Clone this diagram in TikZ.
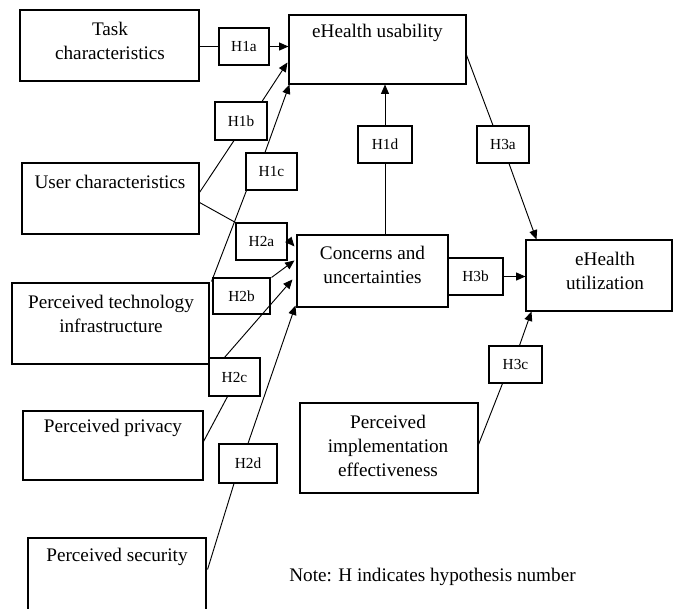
\documentclass[tikz,border=0pt]{standalone}
\usepackage{fontspec}
\setmainfont{Liberation Serif}
\usetikzlibrary{arrows.meta,calc,fit}
\begin{document}
\begin{tikzpicture}[x=0.75pt,y=-0.75pt,
  box/.style={draw,line width=0.8pt,inner sep=0pt},
  hbox/.style={draw,line width=0.8pt,inner sep=0pt,font=\fontsize{11.5}{13}\selectfont},
  txt/.style={inner sep=0pt,align=center,font=\fontsize{14.4}{18}\selectfont},
  conn/.style={line width=0.7pt},
  arr/.style={conn,-{Triangle[length=7pt,width=6pt]}}]
\useasboundingbox (0,0) rectangle (677,608);
% main boxes
\node[box,fit={(20,10)(199,81)}] (task) {};
\node[box,fit={(289,15)(466,84)}] (usab) {};
\node[box,fit={(22,163)(199,234)}] (user) {};
\node[box,fit={(297,235)(448,307)}] (conc) {};
\node[box,fit={(526,240)(672,311)}] (util) {};
\node[box,fit={(12,283)(209,364)}] (pti) {};
\node[box,fit={(23,411)(203,480)}] (priv) {};
\node[box,fit={(28,538)(206,615)}] (sec) {};
\node[box,fit={(300,403)(478,493)}] (pie) {};
% texts
\node[txt] (taskt) at (110,40.5) {Task\\characteristics};
\node[txt] (usabt) at (377.5,33) {eHealth usability};
\node[txt] (usert) at (110,182) {User characteristics};
\node[txt] (conct) at (372.5,264.5) {Concerns and\\uncertainties};
\node[txt] (utilt) at (605,270.5) {eHealth\\utilization};
\node[txt] (ptit) at (111,313.5) {Perceived technology\\infrastructure};
\node[txt] (privt) at (113,428) {Perceived privacy};
\node[txt] (sect) at (117,557) {Perceived security};
\node[txt] (piet) at (388,446) {Perceived\\implementation\\effectiveness};
\node[txt] (note) at (432.5,577) {Note: H indicates hypothesis number};
% hypothesis boxes
\node[hbox,minimum width=37.5pt,minimum height=27.75pt] (h1a) at (244,46.5) {H1a};
\node[hbox,minimum width=39pt,minimum height=28.5pt] (h1b) at (241,121) {H1b};
\node[hbox,minimum width=38.25pt,minimum height=27.75pt] (h1c) at (271.5,171.5) {H1c};
\node[hbox,minimum width=40.5pt,minimum height=27.75pt] (h1d) at (385,144.5) {H1d};
\node[hbox,minimum width=39pt,minimum height=27.75pt] (h3a) at (503,144.5) {H3a};
\node[hbox,minimum width=38.25pt,minimum height=27.75pt] (h2a) at (261.5,241.5) {H2a};
\node[hbox,minimum width=41.25pt,minimum height=27.75pt] (h3b) at (475.5,276.5) {H3b};
\node[hbox,minimum width=42.75pt,minimum height=27pt] (h2b) at (241.5,296) {H2b};
\node[hbox,minimum width=38.25pt,minimum height=28.5pt] (h2c) at (234.5,377) {H2c};
\node[hbox,minimum width=43.5pt,minimum height=29.25pt] (h2d) at (248,463.5) {H2d};
\node[hbox,minimum width=39.75pt,minimum height=27.75pt] (h3c) at (515.5,364.5) {H3c};
% connectors
\draw[conn] (task.east |- h1a.west) -- (h1a.west);
\draw[arr] (h1a.east) -- (h1a.east -| usab.west);
\draw[conn] ($(user.north east)+(0,30)$) -- ($(h1b.south)+(-7,0)$);
\draw[arr] ($(h1b.north)+(21,0)$) -- ($(usab.north west)+(-1,48)$);
\draw[conn] ($(pti.north east)+(2,-1)$) -- ($(h1c.south west)+(1,0)$);
\draw[arr] ($(h1c.north)+(-6.5,0)$) -- ($(usab.south west)+(1,0)$);
\draw[conn] ($(user.north east)+(0,40)$) -- (h2a.north west);
\draw[arr] ($(h2a.east)+(0,-3)$) -- ($(conc.north west)+(-2,12)$);
\draw[arr] ($(h2b.north east)+(1,0)$) -- ($(conc.north west)+(-2,26)$);
\draw[arr] ($(h2c.north)+(-10,0)$) -- ($(conc.north west)+(-4,45)$);
\draw[conn] ($(priv.north east)+(0,31)$) -- ($(h2c.south)+(-7,0)$);
\draw[conn] ($(sec.north east)+(1,32)$) -- ($(h2d.south)+(-14,0)$);
\draw[arr] (h2d.north) -- ($(conc.south west)+(-1,-2)$);
\draw[conn] (h1d.south) -- (h1d.south |- conc.north);
\draw[arr] (h1d.north) -- (h1d.north |- usab.south);
\draw[conn] ($(usab.north east)+(-1,38)$) -- ($(h3a.north)+(-10,0)$);
\draw[arr] ($(h3a.south)+(6,0)$) -- ($(util.north west)+(11,0)$);
\draw[arr] (h3b.east) -- (h3b.east -| util.west);
\draw[conn] ($(pie.north east)+(0,42)$) -- ($(h3c.south)+(-13,0)$);
\draw[arr] ($(h3c.north)+(4,0)$) -- ($(util.south west)+(6,0)$);
\end{tikzpicture}
\end{document}
